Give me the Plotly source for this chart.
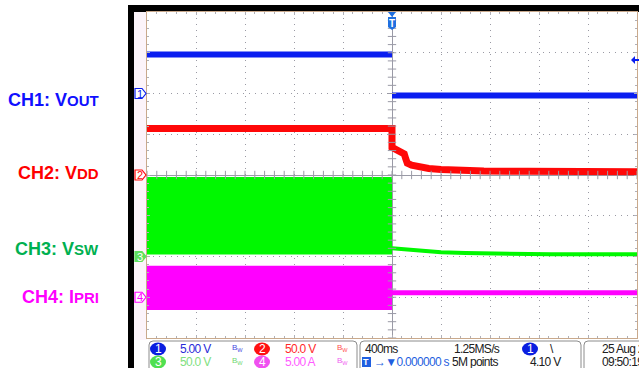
import numpy as np
import plotly.graph_objects as go

# time base: 400 ms/div, trigger at 0
t_left, t_right = -2000, 2000

# CH1 Vout (5 V/div)
ch1_t = [-2000, 0, None, 0, 2000]
ch1_v = [4.8, 4.8, None, -0.25, -0.25]

# CH2 Vdd (50 V/div)
ch2_t = [-2000, 0, 0, 10, 40, 70, 100, 112, 125, 160, 230, 300, 400, 550, 750, 1100, 1500, 2000]
ch2_v = [57.0, 57.0, 34.0, 33.0, 30.0, 28.0, 26.0, 20.0, 14.5, 12.0, 9.5, 8.0, 6.8, 5.8, 5.0, 4.5, 4.2, 4.0]

# CH3 Vsw (50 V/div) - switching envelope, then after shutdown
ch3_band_t = [-2000, 0]
ch3_band_hi = [97.5, 97.5]
ch3_band_lo = [2.5, 2.5]
ch3_t = [0, 100, 200, 300, 400, 600, 900, 1300, 2000]
ch3_v = [10.0, 8.5, 7.0, 6.0, 5.2, 4.2, 3.3, 2.8, 2.8]

# CH4 Ipri (5 A/div)
ch4_band_t = [-2000, 0]
ch4_band_hi = [3.85, 3.85]
ch4_band_lo = [-1.55, -1.55]
ch4_t = [0, 2000]
ch4_v = [0.55, 0.55]

trig_level = 4.10

scale = {1: 5.0, 2: 50.0, 3: 50.0, 4: 5.0}
offset = {1: 2.0, 2: 0.0, 3: -2.0, 4: -3.0}

BLUE = '#0a1ef0'
RED = '#ff0808'
GREEN = '#00f800'
MAG = '#ff00ff'

W, H = 639, 368


def px(x):
    return x / W


def py(y):
    return 1 - y / H


def div(ch, vals):
    return [None if v is None else v / scale[ch] + offset[ch] for v in vals]


def note(x, y, text, font, xanchor='center', xref='paper', yref='paper'):
    return dict(x=x, y=y, xref=xref, yref=yref, text=text, showarrow=False,
                xanchor=xanchor, yanchor='middle', font=font)


def narrow(txt):
    return f'<span style="letter-spacing:-0.7px">{txt}</span>'


fig = go.Figure()

# switching envelopes
fig.add_trace(go.Scatter(x=ch3_band_t, y=div(3, ch3_band_lo), mode='lines', line=dict(width=0, color=GREEN)))
fig.add_trace(go.Scatter(x=ch3_band_t, y=div(3, ch3_band_hi), mode='lines', line=dict(width=0, color=GREEN),
                         fill='tonexty', fillcolor=GREEN))
fig.add_trace(go.Scatter(x=ch4_band_t, y=div(4, ch4_band_lo), mode='lines', line=dict(width=0, color=MAG)))
fig.add_trace(go.Scatter(x=ch4_band_t, y=div(4, ch4_band_hi), mode='lines', line=dict(width=0, color=MAG),
                         fill='tonexty', fillcolor=MAG))

fig.add_trace(go.Scatter(x=ch3_t, y=div(3, ch3_v), mode='lines', line=dict(width=4, color=GREEN)))
fig.add_trace(go.Scatter(x=ch4_t, y=div(4, ch4_v), mode='lines', line=dict(width=5, color=MAG)))
fig.add_trace(go.Scatter(x=ch2_t, y=div(2, ch2_v), mode='lines', line=dict(width=7, color=RED)))
fig.add_trace(go.Scatter(x=ch1_t, y=div(1, ch1_v), mode='lines', line=dict(width=6, color=BLUE),
                         connectgaps=False))

# minor ticks on the centre cross
xt = np.arange(t_left, t_right + 1, 80)
yt = np.arange(-4, 4.01, 0.2)
fig.add_trace(go.Scatter(x=xt, y=[0] * len(xt), mode='markers',
                         marker=dict(symbol='line-ns', size=6, line=dict(width=1, color='#9a9aa6'))))
fig.add_trace(go.Scatter(x=[0] * len(yt), y=yt, mode='markers',
                         marker=dict(symbol='line-ew', size=6, line=dict(width=1, color='#9a9aa6'))))

shapes = []
annotations = []
# black frame and left strip
shapes.append(dict(type='rect', xref='paper', yref='paper', x0=px(128), x1=px(134), y0=py(368), y1=py(5),
                   fillcolor='black', line=dict(width=0), layer='below'))
shapes.append(dict(type='rect', xref='paper', yref='paper', x0=px(128), x1=px(639), y0=py(12), y1=py(5),
                   fillcolor='black', line=dict(width=0), layer='below'))
shapes.append(dict(type='rect', xref='paper', yref='paper', x0=px(134), x1=px(147), y0=py(340), y1=py(12),
                   fillcolor='#fcf4fa', line=dict(width=0), layer='below'))

# channel ground markers
marker_style = {1: (BLUE, 'white', BLUE), 2: (RED, 'white', RED), 3: ('#5ee05e', '#5ee05e', 'white'),
                4: (MAG, 'white', MAG)}
for ch in (1, 2, 3, 4):
    lc, fc, tc = marker_style[ch]
    shapes.append(dict(type='path', xref='paper', yref='y', xsizemode='pixel', ysizemode='pixel',
                       xanchor=px(147), yanchor=offset[ch],
                       path='M -12,5 L -5,5 L -1,0 L -5,-5 L -12,-5 Z',
                       fillcolor=fc, line=dict(color=lc, width=1.2)))
    annotations.append(note(px(140), offset[ch], str(ch), dict(family='Arial', size=11, color=tc), yref='y'))

# trigger position marker
shapes.append(dict(type='path', xref='x', yref='paper', xsizemode='pixel', ysizemode='pixel', xanchor=0,
                   yanchor=py(12),
                   path='M -4,0 L 4,0 L 0,-5 Z', fillcolor='#1f6fe0', line=dict(width=0)))
shapes.append(dict(type='path', xref='x', yref='paper', xsizemode='pixel', ysizemode='pixel', xanchor=0,
                   yanchor=py(12),
                   path='M -4,-5 L 4,-5 L 4,-15 L 0,-18 L -4,-15 Z', fillcolor='#1f6fe0', line=dict(width=0)))
annotations.append(note(0, py(23), '<b>T</b>', dict(family='Arial', size=10, color='white'), xref='x'))

# trigger level arrow
shapes.append(dict(type='path', xref='paper', yref='y', xsizemode='pixel', ysizemode='pixel',
                   xanchor=px(637), yanchor=trig_level / scale[1] + offset[1],
                   path='M -6,0 L -2,4 L -2,-4 Z M -2,1 L 3,1 L 3,-1 L -2,-1 Z',
                   fillcolor=BLUE, line=dict(width=0)))

# info panel boxes
grey = '#8c8c8c'
shapes.append(dict(type='path', xref='paper', yref='paper',
                   path=f'M {px(149)},{py(370)} L {px(149)},{py(345)} Q {px(149)},{py(341)} {px(153)},{py(341)} '
                        f'L {px(353)},{py(341)} Q {px(357)},{py(341)} {px(357)},{py(345)} L {px(357)},{py(370)}',
                   line=dict(color=grey, width=1)))
shapes.append(dict(type='path', xref='paper', yref='paper',
                   path=f'M {px(360)},{py(370)} L {px(360)},{py(345)} Q {px(360)},{py(341)} {px(364)},{py(341)} '
                        f'L {px(577)},{py(341)} Q {px(581)},{py(341)} {px(581)},{py(345)} L {px(581)},{py(370)}',
                   line=dict(color=grey, width=1)))
shapes.append(dict(type='path', xref='paper', yref='paper',
                   path=f'M {px(584)},{py(370)} L {px(584)},{py(345)} Q {px(584)},{py(341)} {px(588)},{py(341)} '
                        f'L {px(640)},{py(341)}',
                   line=dict(color=grey, width=1)))

# channel badges in the info panel
badges = [(158, 349, '1', '#0a1ee0'), (262, 349, '2', '#ff1010'), (158, 362, '3', '#50e050'),
          (262, 362, '4', '#f050f0'), (530, 349, '1', '#0a1ee0')]
for bx, by, txt, col in badges:
    shapes.append(dict(type='circle', xref='paper', yref='paper', xsizemode='pixel', ysizemode='pixel',
                       xanchor=px(bx), yanchor=py(by), x0=-8, x1=8, y0=-6.5, y1=6.5,
                       fillcolor=col, line=dict(width=0)))
    annotations.append(note(px(bx), py(by), txt, dict(family='Arial', size=12, color='white')))

PANEL_FONT = 'Liberation Sans, Arial'
panel_text = [
    (178, 349, '5.00 V', '#2a2ad8'), (283, 349, '50.0 V', '#ff2a2a'),
    (178, 362, '50.0 V', '#80e080'), (283, 362, '5.00 A', '#ff5cff'),
    (363, 349, '400ms', '#202020'), (452, 349, '1.25MS/s', '#202020'),
    (548, 349, '\\', '#202020'), (450, 362, '5M points', '#202020'),
    (528, 362, '4.10 V', '#202020'), (600, 349, '25 Aug 2', '#202020'),
    (600, 362, '09:50:19', '#202020'), (372, 362, '→▼0.000000 s', '#1f5fe0'),
]
for tx, ty, txt, col in panel_text:
    annotations.append(note(px(tx), py(ty), narrow(txt), dict(family=PANEL_FONT, size=12, color=col),
                            xanchor='left'))
for tx, ty, col in [(230, 348, '#4a4ae0'), (335, 348, '#ff5050'), (230, 361, '#70d870'), (335, 361, '#f060f0')]:
    annotations.append(note(px(tx), py(ty), 'B<sub>W</sub>', dict(family=PANEL_FONT, size=8, color=col),
                            xanchor='left'))
shapes.append(dict(type='rect', xref='paper', yref='paper', x0=px(362), x1=px(371), y0=py(367), y1=py(357),
                   fillcolor='#1f5fe0', line=dict(width=0)))
annotations.append(note(px(366.5), py(362), '<b>T</b>', dict(family='Arial', size=9, color='white')))

# side labels
labels = [(100, 'CH1: V', 'OUT', '#1010ff'), (173, 'CH2: V', 'DD', '#ff0000'),
          (249, 'CH3: V', 'SW', '#00b050'), (297, 'CH4: I', 'PRI', '#ff00ff')]
for ly, main, sub, col in labels:
    annotations.append(note(px(101), py(ly), f'<b>{main}<span style="font-size:15px">{sub}</span></b>',
                            dict(family='Liberation Sans, Arial', size=18, color=col), xanchor='right'))

axis_common = dict(showgrid=True, gridcolor='#9a9aa4', griddash='1px,5px', gridwidth=1,
                   zeroline=True, zerolinecolor='#9a9aa6', zerolinewidth=1,
                   showline=True, linecolor='#c9a98c', linewidth=1, mirror='allticks',
                   showticklabels=False, ticks='inside', ticklen=3, tickcolor='#b0b0b8', fixedrange=True)

fig.update_layout(
    width=W, height=H, margin=dict(l=0, r=0, t=0, b=0),
    paper_bgcolor='white', plot_bgcolor='white', showlegend=False, hovermode=False,
    xaxis=dict(domain=[px(147), px(637)], range=[t_left, t_right], dtick=400, tick0=0,
               minor=dict(ticks='inside', dtick=80, ticklen=2, tickcolor='#b0b0b8'), **axis_common),
    yaxis=dict(domain=[py(338), py(12)], range=[-4, 4], dtick=1, tick0=0,
               minor=dict(ticks='inside', dtick=0.2, ticklen=2, tickcolor='#b0b0b8'), **axis_common),
    shapes=shapes, annotations=annotations,
)

fig.write_html("out.html", config={'displayModeBar': False},
               post_script="document.body.style.margin='0px';document.body.style.overflow='hidden';")
